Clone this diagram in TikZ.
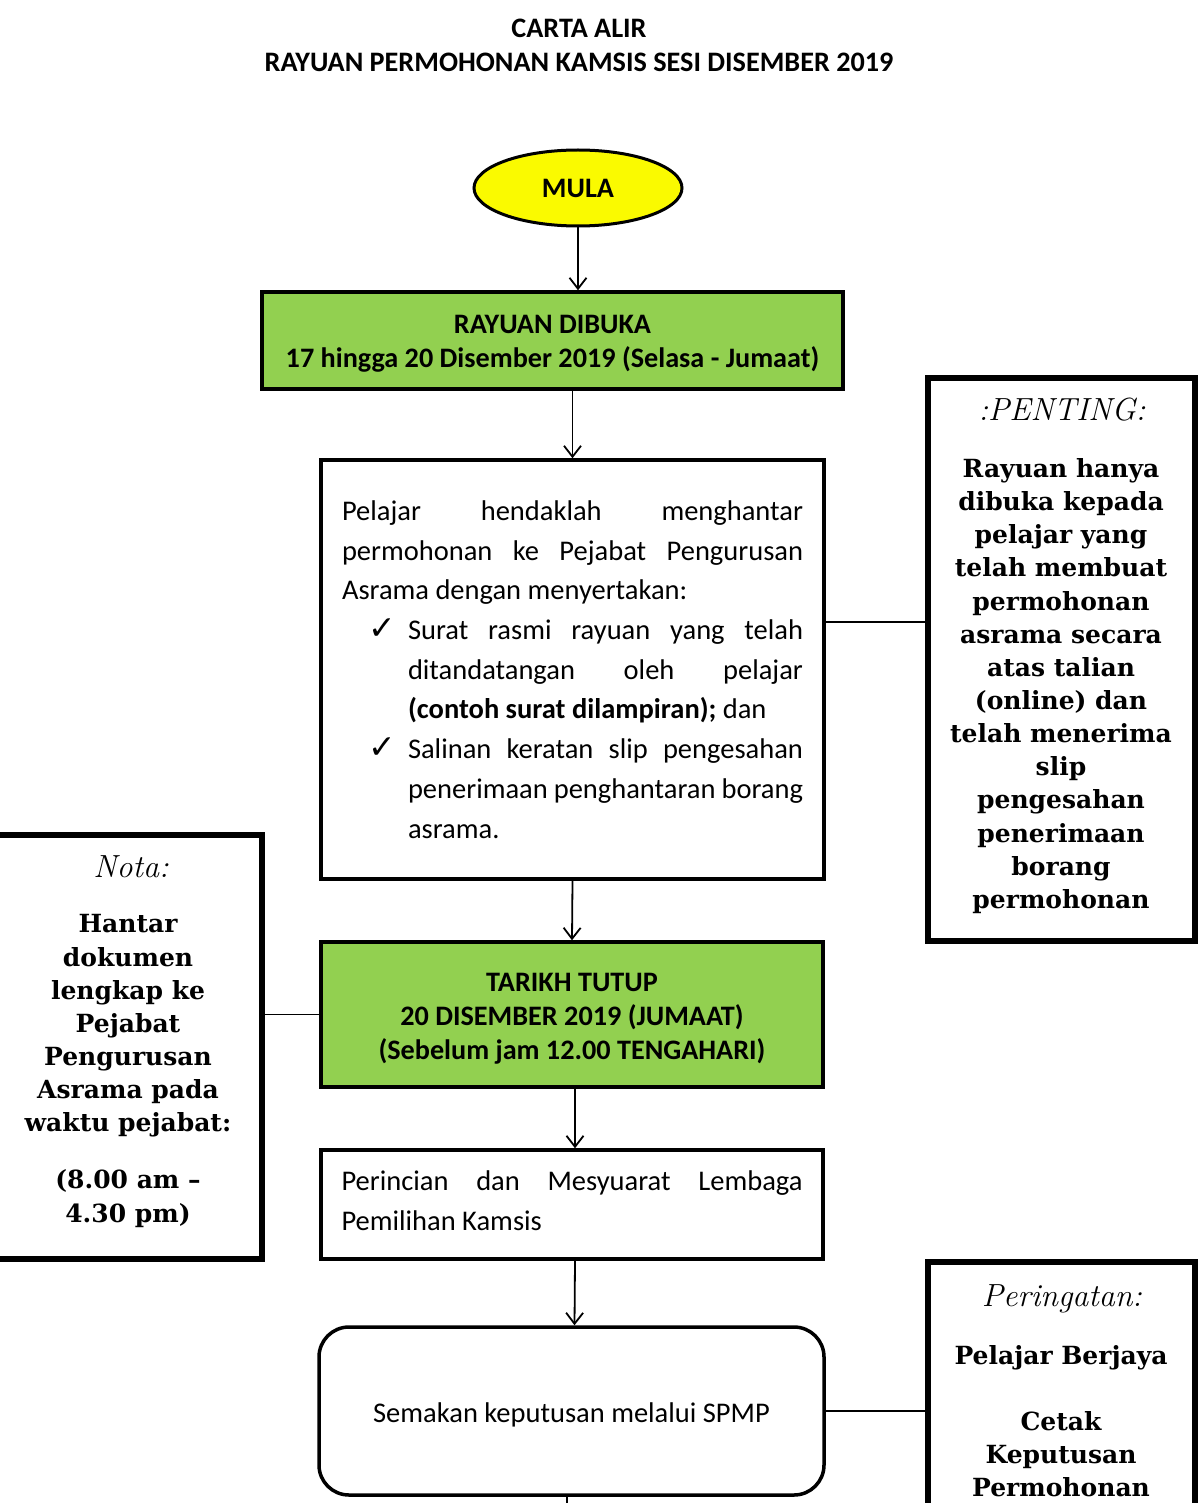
\documentclass[tikz,border=0pt]{standalone}
\usepackage{fontspec}
\newfontfamily\calfont{Carlito}
\newfontfamily\slabfont{DejaVu Serif}
\newfontfamily\symfont{DejaVu Sans}
\usetikzlibrary{shapes.geometric,arrows.meta}
\definecolor{fgreen}{RGB}{146,208,80}
\definecolor{fyellow}{RGB}{250,250,0}
\newcommand\jline[1]{\hbox to 461pt{#1}}
\newcommand\chk{\hbox to 66pt{\hskip 26pt{\symfont\fontsize{33}{33}\selectfont ✓}\hfil}}
\begin{document}
\begin{tikzpicture}[x=1pt,y=-1pt,
  conn/.style={line width=1.8pt},
  arr/.style={conn,-{Straight Barb[length=11pt,width=17pt]}},
  bx/.style={draw,line width=3.5pt,inner sep=0pt},
  side/.style={draw,line width=6pt,inner sep=0pt},
  body/.style={font=\calfont\fontsize{28.5}{39.7}\selectfont},
  boldt/.style={font=\calfont\bfseries\fontsize{28.2}{34}\selectfont},
  slabt/.style={font=\slabfont\bfseries\fontsize{25}{33.15}\selectfont,align=center},
  hdr/.style={font=\itshape\fontsize{32}{32}\selectfont,anchor=base},
]
\clip (0,0) rectangle (1202,1503);
\fill[white] (0,0) rectangle (1202,1503);

\node[boldt,align=center] (title) at (579,45) {CARTA ALIR\\RAYUAN PERMOHONAN KAMSIS SESI DISEMBER 2019};

\node[draw,ellipse,line width=3pt,fill=fyellow,minimum width=208pt,minimum height=76pt,inner sep=0pt,boldt] (mula) at (578,188) {MULA};

\node[bx,fill=fgreen,minimum width=581pt,minimum height=97pt,boldt,align=center] (rd) at (552.5,340.5) {\rule{0pt}{25pt}RAYUAN DIBUKA\\17 hingga 20 Disember 2019 (Selasa - Jumaat)};

\node[bx,minimum width=503pt,minimum height=419pt,body] (mohon) at (572.5,669.5) {\vbox{\baselineskip=39.7pt\lineskiplimit=-100pt
\jline{Pelajar\hfill hendaklah\hfill menghantar}
\jline{permohonan\hfill ke\hfill Pejabat\hfill Pengurusan}
\jline{Asrama dengan menyertakan:\hfill}
\jline{\chk Surat\hfill rasmi\hfill rayuan\hfill yang\hfill telah}
\jline{\hskip66pt ditandatangan\hfill oleh\hfill pelajar}
\jline{\hskip66pt{\bfseries (contoh surat dilampiran);} dan\hfill}
\jline{\chk Salinan\hfill keratan\hfill slip\hfill pengesahan}
\jline{\hskip66pt penerimaan\hfill penghantaran\hfill borang}
\jline{\hskip66pt asrama.\hfill}}};

\node[bx,fill=fgreen,minimum width=502pt,minimum height=145pt,boldt,align=center] (tutup) at (572,1014.5) {\rule{0pt}{26pt}TARIKH TUTUP\\20 DISEMBER 2019 (JUMAAT)\\(Sebelum jam 12.00 TENGAHARI)};

\node[bx,minimum width=502pt,minimum height=109pt,body] (lembaga) at (572,1204.5) {\vbox{\baselineskip=39.7pt\lineskiplimit=-100pt
\jline{Perincian\hfill dan\hfill Mesyuarat\hfill Lembaga}
\jline{Pemilihan Kamsis\hfill}\vskip 8pt}};

\node[bx,rounded corners=30pt,minimum width=505pt,minimum height=168pt,body] (semak) at (571.5,1411) {\rule{0pt}{28pt}Semakan keputusan melalui SPMP};

% side boxes
\node[side,minimum width=267pt,minimum height=563pt] (penting) at (1061.5,659.5) {};
\node[hdr] (pentingH) at (1062,420) {:PENTING:};
\node[slabt] (pentingB) at (1061,686) {Rayuan hanya\\dibuka kepada\\pelajar yang\\telah membuat\\permohonan\\asrama secara\\atas talian\\(online) dan\\telah menerima\\slip\\pengesahan\\penerimaan\\borang\\permohonan};

\node[side,minimum width=272pt,minimum height=424pt] (nota) at (126,1047) {};
\node[hdr] (notaH) at (131,877) {Nota:};
\node[slabt] (notaB) at (128,1071) {Hantar\\dokumen\\lengkap ke\\Pejabat\\Pengurusan\\Asrama pada\\waktu pejabat:\\[24pt](8.00 am –\\4.30 pm)};

\node[side,minimum width=267pt,minimum height=280pt] (peringatan) at (1061.5,1402) {};
\node[hdr] (perH) at (1062,1306) {Peringatan:};
\node[slabt] (perB) at (1061,1421) {Pelajar Berjaya\\[33pt]Cetak\\Keputusan\\Permohonan};

% connectors
\draw[arr] (mula.south) -- (mula.south |- rd.north);
\draw[arr] (mohon.north |- rd.south) -- (mohon.north);
\draw[arr] (mohon.south) -- (tutup.north);
\draw[arr] ([xshift=3pt]tutup.south) -- ([xshift=3pt]lembaga.north);
\draw[arr] ([xshift=3pt]lembaga.south) -- ([xshift=3pt]semak.north);
\coordinate (tail) at (567,1520);
\draw[conn] (semak.south -| tail) -- (tail);
\coordinate (c1) at (0,622);
\draw[conn] (c1 -| mohon.east) -- (c1 -| penting.west);
\draw[conn] (tutup.west) -- (tutup.west -| nota.east);
\draw[conn] (semak.east) -- (semak.east -| peringatan.west);
\end{tikzpicture}
\end{document}
